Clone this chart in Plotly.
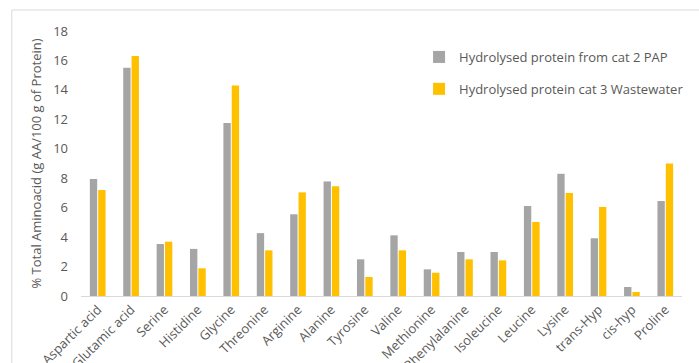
import plotly.graph_objects as go

categories = ["Aspartic acid", "Glutamic acid", "Serine", "Histidine", "Glycine",
              "Threonine", "Arginine", "Alanine", "Tyrosine", "Valine", "Methionine",
              "Phenylalanine", "Isoleucine", "Leucine", "Lysine", "trans-Hyp",
              "cis-hyp", "Proline"]
cat2_pap = [7.95, 15.5, 3.53, 3.2, 11.75, 4.27, 5.55, 7.78, 2.49, 4.12, 1.81,
            2.99, 2.99, 6.11, 8.3, 3.92, 0.61, 6.45]
cat3_ww = [7.2, 16.3, 3.69, 1.88, 14.3, 3.1, 7.04, 7.45, 1.29, 3.1, 1.58,
           2.49, 2.42, 5.03, 7.0, 6.05, 0.27, 9.0]
series_names = ["Hydrolysed protein from cat 2 PAP", "Hydrolysed protein cat 3 Wastewater"]
y_ticks = [0, 2, 4, 6, 8, 10, 12, 14, 16, 18]

W, H = 699, 363
ml, mr, mt, mb = 81, 10, 31, 67
pw, ph = W - ml - mr, H - mt - mb

fig = go.Figure()
fig.add_trace(go.Bar(x=categories, y=cat2_pap, name=series_names[0],
                     marker=dict(color="#A5A5A5", line=dict(width=0)), legendgroup="a"))
fig.add_trace(go.Bar(x=categories, y=cat3_ww, name=series_names[1],
                     marker=dict(color="#FFC000", line=dict(width=0)), legendgroup="b"))

# outer chart border
x0 = (11 - ml) / pw
y1 = (H - mb - 10) / ph
fig.add_shape(type="rect", xref="paper", yref="paper", x0=x0, x1=1.2, y0=-0.5, y1=y1,
              line=dict(color="#D9D9D9", width=1), fillcolor="rgba(0,0,0,0)", layer="below")

fig.update_layout(
    width=W, height=H,
    margin=dict(l=ml, r=mr, t=mt, b=mb, pad=0),
    paper_bgcolor="white", plot_bgcolor="white",
    font=dict(family="Open Sans, Liberation Sans, sans-serif", color="#595959", size=12),
    barmode="group", bargap=0.5, bargroupgap=0.12,
    legend=dict(x=(423 - ml) / pw, y=(H - mb - 42) / ph, xanchor="left", yanchor="top",
                font=dict(size=13, color="#595959"), tracegroupgap=12,
                bgcolor="rgba(0,0,0,0)", itemwidth=30),
    xaxis=dict(tickangle=-45, showline=True, linecolor="#D9D9D9", linewidth=1,
               ticks="", tickfont=dict(size=13, color="#595959"), showgrid=False,
               automargin=False),
    yaxis=dict(range=[0, 18], tickvals=y_ticks, showgrid=False, zeroline=False,
               showline=False, ticks="", tickfont=dict(size=13, color="#595959"),
               ticklabelstandoff=12, automargin=False,
               title=dict(text="% Total Aminoacid (g AA/100 g of Protein)",
                          font=dict(size=13, color="#595959"), standoff=8)),
)

fig.write_html("out.html")
